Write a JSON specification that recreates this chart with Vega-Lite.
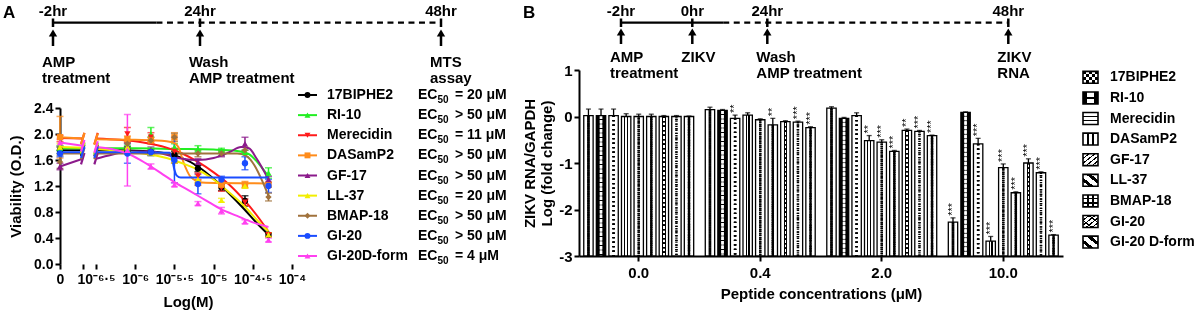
{
  "$schema": "https://vega.github.io/schema/vega-lite/v6.json",
  "width": 1198,
  "height": 317,
  "padding": 0,
  "autosize": {"type": "none"},
  "background": "white",
  "config": {
    "font": "Liberation Sans",
    "view": {"stroke": null},
    "axis": {"grid": false, "labelFont": "Liberation Sans", "labelFontWeight": "bold", "labelFontSize": 14, "labelColor": "black", "titleFont": "Liberation Sans", "titleFontWeight": "bold", "titleFontSize": 15, "titleColor": "black", "domainColor": "black", "domainWidth": 2, "tickColor": "black", "tickWidth": 2, "tickSize": 5},
    "text": {"font": "Liberation Sans", "fontWeight": "bold", "fill": "black"}
  },
  "datasets": {
    "tlA": [
      {"t": -2, "top": "-2hr", "lab": "AMP\ntreatment"},
      {"t": 24, "top": "24hr", "lab": "Wash\nAMP treatment"},
      {"t": 48, "top": "48hr", "lab": "MTS\nassay"}
    ],
    "segA": [{"a": -2, "b": 16.3, "style": "solid"}, {"a": 16.3, "b": 48, "style": "dashed"}],
    "letA": [{"t": -10.84, "txt": "A"}],
    "tlB": [
      {"t": -2, "top": "-2hr", "lab": "AMP\ntreatment"},
      {"t": 0, "top": "0hr", "lab": "ZIKV"},
      {"t": 24, "top": "24hr", "lab": "Wash\nAMP treatment"},
      {"t": 48, "top": "48hr", "lab": "ZIKV\nRNA"}
    ],
    "segB": [{"a": -2, "b": 9.9, "style": "solid"}, {"a": 9.9, "b": 48, "style": "dashed"}],
    "letB": [{"t": -4.75, "txt": "B"}],
    "axA": [{"x": -6.96, "x2": -6.67}, {"x": -6.5, "x2": -4.0}],
    "curvesA": [
      {"p": "17BIPHE2", "s": "L", "x": -6.96, "v": 1.75}, {"p": "17BIPHE2", "s": "L", "x": -6.67, "v": 1.75},
      {"p": "17BIPHE2", "s": "R", "x": -6.5, "v": 1.75}, {"p": "17BIPHE2", "s": "R", "x": -6.2, "v": 1.75}, {"p": "17BIPHE2", "s": "R", "x": -5.9, "v": 1.74}, {"p": "17BIPHE2", "s": "R", "x": -5.6, "v": 1.70}, {"p": "17BIPHE2", "s": "R", "x": -5.4, "v": 1.63}, {"p": "17BIPHE2", "s": "R", "x": -5.2, "v": 1.50}, {"p": "17BIPHE2", "s": "R", "x": -5.0, "v": 1.31}, {"p": "17BIPHE2", "s": "R", "x": -4.8, "v": 1.08}, {"p": "17BIPHE2", "s": "R", "x": -4.6, "v": 0.83}, {"p": "17BIPHE2", "s": "R", "x": -4.45, "v": 0.63}, {"p": "17BIPHE2", "s": "R", "x": -4.3, "v": 0.45},
      {"p": "RI-10", "s": "L", "x": -6.96, "v": 1.78}, {"p": "RI-10", "s": "L", "x": -6.67, "v": 1.78},
      {"p": "RI-10", "s": "R", "x": -6.5, "v": 1.78}, {"p": "RI-10", "s": "R", "x": -6.0, "v": 1.78}, {"p": "RI-10", "s": "R", "x": -5.5, "v": 1.77}, {"p": "RI-10", "s": "R", "x": -5.0, "v": 1.76}, {"p": "RI-10", "s": "R", "x": -4.7, "v": 1.74}, {"p": "RI-10", "s": "R", "x": -4.55, "v": 1.69}, {"p": "RI-10", "s": "R", "x": -4.45, "v": 1.58}, {"p": "RI-10", "s": "R", "x": -4.37, "v": 1.46}, {"p": "RI-10", "s": "R", "x": -4.3, "v": 1.35},
      {"p": "Merecidin", "s": "L", "x": -6.96, "v": 1.94}, {"p": "Merecidin", "s": "L", "x": -6.67, "v": 1.93},
      {"p": "Merecidin", "s": "R", "x": -6.5, "v": 1.93}, {"p": "Merecidin", "s": "R", "x": -6.2, "v": 1.91}, {"p": "Merecidin", "s": "R", "x": -5.9, "v": 1.87}, {"p": "Merecidin", "s": "R", "x": -5.6, "v": 1.79}, {"p": "Merecidin", "s": "R", "x": -5.4, "v": 1.70}, {"p": "Merecidin", "s": "R", "x": -5.2, "v": 1.57}, {"p": "Merecidin", "s": "R", "x": -5.0, "v": 1.41}, {"p": "Merecidin", "s": "R", "x": -4.8, "v": 1.22}, {"p": "Merecidin", "s": "R", "x": -4.6, "v": 0.97}, {"p": "Merecidin", "s": "R", "x": -4.45, "v": 0.75}, {"p": "Merecidin", "s": "R", "x": -4.3, "v": 0.50},
      {"p": "DASamP2", "s": "L", "x": -6.96, "v": 1.95}, {"p": "DASamP2", "s": "L", "x": -6.67, "v": 1.93},
      {"p": "DASamP2", "s": "R", "x": -6.5, "v": 1.92}, {"p": "DASamP2", "s": "R", "x": -6.0, "v": 1.91}, {"p": "DASamP2", "s": "R", "x": -5.6, "v": 1.89}, {"p": "DASamP2", "s": "R", "x": -5.5, "v": 1.86}, {"p": "DASamP2", "s": "R", "x": -5.45, "v": 1.80}, {"p": "DASamP2", "s": "R", "x": -5.38, "v": 1.55}, {"p": "DASamP2", "s": "R", "x": -5.3, "v": 1.35}, {"p": "DASamP2", "s": "R", "x": -5.2, "v": 1.27}, {"p": "DASamP2", "s": "R", "x": -5.1, "v": 1.25}, {"p": "DASamP2", "s": "R", "x": -4.3, "v": 1.24},
      {"p": "GF-17", "s": "L", "x": -6.96, "v": 1.50}, {"p": "GF-17", "s": "L", "x": -6.67, "v": 1.62},
      {"p": "GF-17", "s": "R", "x": -6.5, "v": 1.62}, {"p": "GF-17", "s": "R", "x": -6.3, "v": 1.68}, {"p": "GF-17", "s": "R", "x": -6.1, "v": 1.73}, {"p": "GF-17", "s": "R", "x": -5.8, "v": 1.73}, {"p": "GF-17", "s": "R", "x": -5.6, "v": 1.68}, {"p": "GF-17", "s": "R", "x": -5.4, "v": 1.62}, {"p": "GF-17", "s": "R", "x": -5.2, "v": 1.60}, {"p": "GF-17", "s": "R", "x": -5.0, "v": 1.63}, {"p": "GF-17", "s": "R", "x": -4.8, "v": 1.72}, {"p": "GF-17", "s": "R", "x": -4.65, "v": 1.80}, {"p": "GF-17", "s": "R", "x": -4.55, "v": 1.78}, {"p": "GF-17", "s": "R", "x": -4.45, "v": 1.62}, {"p": "GF-17", "s": "R", "x": -4.3, "v": 1.30},
      {"p": "LL-37", "s": "L", "x": -6.96, "v": 1.80}, {"p": "LL-37", "s": "L", "x": -6.67, "v": 1.79},
      {"p": "LL-37", "s": "R", "x": -6.5, "v": 1.77}, {"p": "LL-37", "s": "R", "x": -6.2, "v": 1.74}, {"p": "LL-37", "s": "R", "x": -5.9, "v": 1.70}, {"p": "LL-37", "s": "R", "x": -5.6, "v": 1.63}, {"p": "LL-37", "s": "R", "x": -5.4, "v": 1.55}, {"p": "LL-37", "s": "R", "x": -5.2, "v": 1.45}, {"p": "LL-37", "s": "R", "x": -5.0, "v": 1.30}, {"p": "LL-37", "s": "R", "x": -4.8, "v": 1.10}, {"p": "LL-37", "s": "R", "x": -4.6, "v": 0.88}, {"p": "LL-37", "s": "R", "x": -4.45, "v": 0.68}, {"p": "LL-37", "s": "R", "x": -4.3, "v": 0.50},
      {"p": "BMAP-18", "s": "L", "x": -6.96, "v": 1.70}, {"p": "BMAP-18", "s": "L", "x": -6.67, "v": 1.70},
      {"p": "BMAP-18", "s": "R", "x": -6.5, "v": 1.70}, {"p": "BMAP-18", "s": "R", "x": -6.0, "v": 1.70}, {"p": "BMAP-18", "s": "R", "x": -5.5, "v": 1.70}, {"p": "BMAP-18", "s": "R", "x": -5.0, "v": 1.70}, {"p": "BMAP-18", "s": "R", "x": -4.7, "v": 1.70}, {"p": "BMAP-18", "s": "R", "x": -4.58, "v": 1.66}, {"p": "BMAP-18", "s": "R", "x": -4.48, "v": 1.52}, {"p": "BMAP-18", "s": "R", "x": -4.38, "v": 1.28}, {"p": "BMAP-18", "s": "R", "x": -4.3, "v": 1.05},
      {"p": "GI-20", "s": "L", "x": -6.96, "v": 1.72}, {"p": "GI-20", "s": "L", "x": -6.67, "v": 1.72},
      {"p": "GI-20", "s": "R", "x": -6.5, "v": 1.72}, {"p": "GI-20", "s": "R", "x": -6.0, "v": 1.72}, {"p": "GI-20", "s": "R", "x": -5.56, "v": 1.71}, {"p": "GI-20", "s": "R", "x": -5.53, "v": 1.62}, {"p": "GI-20", "s": "R", "x": -5.5, "v": 1.45}, {"p": "GI-20", "s": "R", "x": -5.47, "v": 1.36}, {"p": "GI-20", "s": "R", "x": -5.42, "v": 1.33}, {"p": "GI-20", "s": "R", "x": -5.0, "v": 1.33}, {"p": "GI-20", "s": "R", "x": -4.3, "v": 1.33},
      {"p": "GI-20D-form", "s": "L", "x": -6.96, "v": 1.87}, {"p": "GI-20D-form", "s": "L", "x": -6.67, "v": 1.82},
      {"p": "GI-20D-form", "s": "R", "x": -6.5, "v": 1.80}, {"p": "GI-20D-form", "s": "R", "x": -6.3, "v": 1.77}, {"p": "GI-20D-form", "s": "R", "x": -6.1, "v": 1.70}, {"p": "GI-20D-form", "s": "R", "x": -5.95, "v": 1.61}, {"p": "GI-20D-form", "s": "R", "x": -5.8, "v": 1.50}, {"p": "GI-20D-form", "s": "R", "x": -5.65, "v": 1.38}, {"p": "GI-20D-form", "s": "R", "x": -5.5, "v": 1.26}, {"p": "GI-20D-form", "s": "R", "x": -5.3, "v": 1.12}, {"p": "GI-20D-form", "s": "R", "x": -5.1, "v": 0.98}, {"p": "GI-20D-form", "s": "R", "x": -4.9, "v": 0.84}, {"p": "GI-20D-form", "s": "R", "x": -4.7, "v": 0.74}, {"p": "GI-20D-form", "s": "R", "x": -4.5, "v": 0.64}, {"p": "GI-20D-form", "s": "R", "x": -4.3, "v": 0.57}
    ],
    "ptsA": [
      {"p": "17BIPHE2", "x": -6.96, "v": 1.75, "e": 0.05}, {"p": "17BIPHE2", "x": -6.1, "v": 1.75, "e": 0.05}, {"p": "17BIPHE2", "x": -5.8, "v": 1.72, "e": 0.05}, {"p": "17BIPHE2", "x": -5.5, "v": 1.68, "e": 0.05}, {"p": "17BIPHE2", "x": -5.2, "v": 1.47, "e": 0.05}, {"p": "17BIPHE2", "x": -4.9, "v": 1.18, "e": 0.05}, {"p": "17BIPHE2", "x": -4.6, "v": 0.97, "e": 0.08}, {"p": "17BIPHE2", "x": -4.3, "v": 0.45, "e": 0.03},
      {"p": "RI-10", "x": -6.96, "v": 1.78, "e": 0.04}, {"p": "RI-10", "x": -6.1, "v": 1.78, "e": 0.04}, {"p": "RI-10", "x": -5.8, "v": 2.0, "e": 0.1}, {"p": "RI-10", "x": -5.5, "v": 1.8, "e": 0.05}, {"p": "RI-10", "x": -5.2, "v": 1.77, "e": 0.05}, {"p": "RI-10", "x": -4.9, "v": 1.75, "e": 0.03}, {"p": "RI-10", "x": -4.6, "v": 1.72, "e": 0.03}, {"p": "RI-10", "x": -4.3, "v": 1.4, "e": 0.08},
      {"p": "Merecidin", "x": -6.96, "v": 1.93, "e": 0.05}, {"p": "Merecidin", "x": -6.1, "v": 2.0, "e": 0.1}, {"p": "Merecidin", "x": -5.8, "v": 1.95, "e": 0.07}, {"p": "Merecidin", "x": -5.5, "v": 1.73, "e": 0.05}, {"p": "Merecidin", "x": -5.2, "v": 1.35, "e": 0.05}, {"p": "Merecidin", "x": -4.9, "v": 1.17, "e": 0.05}, {"p": "Merecidin", "x": -4.6, "v": 0.95, "e": 0.05}, {"p": "Merecidin", "x": -4.3, "v": 0.45, "e": 0.03},
      {"p": "DASamP2", "x": -6.96, "v": 1.95, "e": 0.32}, {"p": "DASamP2", "x": -6.1, "v": 1.92, "e": 0.05}, {"p": "DASamP2", "x": -5.8, "v": 1.9, "e": 0.05}, {"p": "DASamP2", "x": -5.5, "v": 1.95, "e": 0.07}, {"p": "DASamP2", "x": -5.2, "v": 1.25, "e": 0.04}, {"p": "DASamP2", "x": -4.9, "v": 1.22, "e": 0.04}, {"p": "DASamP2", "x": -4.6, "v": 1.22, "e": 0.05}, {"p": "DASamP2", "x": -4.3, "v": 1.22, "e": 0.04},
      {"p": "GF-17", "x": -6.96, "v": 1.5, "e": 0.05}, {"p": "GF-17", "x": -6.1, "v": 1.82, "e": 0.05}, {"p": "GF-17", "x": -5.8, "v": 1.75, "e": 0.05}, {"p": "GF-17", "x": -5.5, "v": 1.6, "e": 0.05}, {"p": "GF-17", "x": -5.2, "v": 1.57, "e": 0.05}, {"p": "GF-17", "x": -4.9, "v": 1.7, "e": 0.05}, {"p": "GF-17", "x": -4.6, "v": 1.85, "e": 0.1}, {"p": "GF-17", "x": -4.3, "v": 1.3, "e": 0.05},
      {"p": "LL-37", "x": -6.96, "v": 1.8, "e": 0.05}, {"p": "LL-37", "x": -6.1, "v": 1.8, "e": 0.05}, {"p": "LL-37", "x": -5.8, "v": 1.72, "e": 0.05}, {"p": "LL-37", "x": -5.5, "v": 1.6, "e": 0.05}, {"p": "LL-37", "x": -5.2, "v": 1.3, "e": 0.05}, {"p": "LL-37", "x": -4.9, "v": 0.98, "e": 0.03}, {"p": "LL-37", "x": -4.6, "v": 1.2, "e": 0.03}, {"p": "LL-37", "x": -4.3, "v": 0.45, "e": 0.03},
      {"p": "BMAP-18", "x": -6.96, "v": 1.57, "e": 0.1}, {"p": "BMAP-18", "x": -6.1, "v": 1.85, "e": 0.05}, {"p": "BMAP-18", "x": -5.8, "v": 1.9, "e": 0.05}, {"p": "BMAP-18", "x": -5.5, "v": 1.95, "e": 0.06}, {"p": "BMAP-18", "x": -5.2, "v": 1.7, "e": 0.05}, {"p": "BMAP-18", "x": -4.9, "v": 1.7, "e": 0.03}, {"p": "BMAP-18", "x": -4.6, "v": 1.75, "e": 0.05}, {"p": "BMAP-18", "x": -4.3, "v": 1.03, "e": 0.06},
      {"p": "GI-20", "x": -6.96, "v": 1.7, "e": 0.05}, {"p": "GI-20", "x": -6.1, "v": 1.7, "e": 0.15}, {"p": "GI-20", "x": -5.8, "v": 1.72, "e": 0.05}, {"p": "GI-20", "x": -5.5, "v": 1.6, "e": 0.35}, {"p": "GI-20", "x": -5.2, "v": 1.23, "e": 0.15}, {"p": "GI-20", "x": -4.9, "v": 1.3, "e": 0.05}, {"p": "GI-20", "x": -4.6, "v": 1.55, "e": 0.1}, {"p": "GI-20", "x": -4.3, "v": 1.2, "e": 0.1},
      {"p": "GI-20D-form", "x": -6.96, "v": 1.87, "e": 0.05}, {"p": "GI-20D-form", "x": -6.1, "v": 1.75, "e": 0.55}, {"p": "GI-20D-form", "x": -5.8, "v": 1.5, "e": 0.04}, {"p": "GI-20D-form", "x": -5.5, "v": 1.22, "e": 0.03}, {"p": "GI-20D-form", "x": -5.2, "v": 0.93, "e": 0.03}, {"p": "GI-20D-form", "x": -4.9, "v": 0.82, "e": 0.05}, {"p": "GI-20D-form", "x": -4.6, "v": 0.65, "e": 0.03}, {"p": "GI-20D-form", "x": -4.3, "v": 0.37, "e": 0.03}
    ],
    "legA": [
      {"p": "17BIPHE2", "r": "= 20 μM"}, {"p": "RI-10", "r": "> 50 μM"}, {"p": "Merecidin", "r": "= 11 μM"},
      {"p": "DASamP2", "r": "> 50 μM"}, {"p": "GF-17", "r": "> 50 μM"}, {"p": "LL-37", "r": "= 20 μM"},
      {"p": "BMAP-18", "r": "> 50 μM"}, {"p": "GI-20", "r": "> 50 μM"}, {"p": "GI-20D-form", "r": "=  4 μM"}
    ],
    "barsB": [
      {"c": "0.0", "p": "17BIPHE2", "v": 0.02, "hi": 0.16, "sig": ""}, {"c": "0.0", "p": "RI-10", "v": 0.02, "hi": 0.16, "sig": ""}, {"c": "0.0", "p": "Merecidin", "v": 0.02, "hi": 0.16, "sig": ""}, {"c": "0.0", "p": "DASamP2", "v": 0.0, "hi": 0.06, "sig": ""}, {"c": "0.0", "p": "GF-17", "v": 0.0, "hi": 0.05, "sig": ""}, {"c": "0.0", "p": "LL-37", "v": 0.0, "hi": 0.05, "sig": ""}, {"c": "0.0", "p": "BMAP-18", "v": 0.0, "hi": 0.02, "sig": ""}, {"c": "0.0", "p": "GI-20", "v": 0.0, "hi": 0.02, "sig": ""}, {"c": "0.0", "p": "GI-20 D-form", "v": 0.0, "hi": 0.01, "sig": ""},
      {"c": "0.4", "p": "17BIPHE2", "v": 0.15, "hi": 0.2, "sig": ""}, {"c": "0.4", "p": "RI-10", "v": 0.13, "hi": 0.15, "sig": ""}, {"c": "0.4", "p": "Merecidin", "v": -0.04, "hi": 0.03, "sig": "**"}, {"c": "0.4", "p": "DASamP2", "v": 0.03, "hi": 0.08, "sig": ""}, {"c": "0.4", "p": "GF-17", "v": -0.07, "hi": -0.05, "sig": ""}, {"c": "0.4", "p": "LL-37", "v": -0.18, "hi": -0.04, "sig": "**"}, {"c": "0.4", "p": "BMAP-18", "v": -0.11, "hi": -0.09, "sig": ""}, {"c": "0.4", "p": "GI-20", "v": -0.12, "hi": -0.1, "sig": "***"}, {"c": "0.4", "p": "GI-20 D-form", "v": -0.24, "hi": -0.22, "sig": "***"},
      {"c": "2.0", "p": "17BIPHE2", "v": 0.18, "hi": 0.21, "sig": ""}, {"c": "2.0", "p": "RI-10", "v": -0.04, "hi": -0.02, "sig": ""}, {"c": "2.0", "p": "Merecidin", "v": 0.02, "hi": 0.08, "sig": ""}, {"c": "2.0", "p": "DASamP2", "v": -0.52, "hi": -0.41, "sig": "**"}, {"c": "2.0", "p": "GF-17", "v": -0.55, "hi": -0.5, "sig": "***"}, {"c": "2.0", "p": "LL-37", "v": -0.75, "hi": -0.73, "sig": "***"}, {"c": "2.0", "p": "BMAP-18", "v": -0.3, "hi": -0.27, "sig": "**"}, {"c": "2.0", "p": "GI-20", "v": -0.32, "hi": -0.3, "sig": "***"}, {"c": "2.0", "p": "GI-20 D-form", "v": -0.41, "hi": -0.4, "sig": "***"},
      {"c": "10.0", "p": "17BIPHE2", "v": -2.27, "hi": -2.18, "sig": "***"}, {"c": "10.0", "p": "RI-10", "v": 0.09, "hi": 0.1, "sig": ""}, {"c": "10.0", "p": "Merecidin", "v": -0.59, "hi": -0.47, "sig": "***"}, {"c": "10.0", "p": "DASamP2", "v": -2.68, "hi": -2.58, "sig": "***"}, {"c": "10.0", "p": "GF-17", "v": -1.1, "hi": -1.02, "sig": "***"}, {"c": "10.0", "p": "LL-37", "v": -1.64, "hi": -1.62, "sig": "***"}, {"c": "10.0", "p": "BMAP-18", "v": -1.0, "hi": -0.91, "sig": "***"}, {"c": "10.0", "p": "GI-20", "v": -1.21, "hi": -1.19, "sig": "***"}, {"c": "10.0", "p": "GI-20 D-form", "v": -2.55, "hi": -2.54, "sig": "***"}
    ],
    "legB": [
      {"p": "17BIPHE2"}, {"p": "RI-10"}, {"p": "Merecidin"}, {"p": "DASamP2"}, {"p": "GF-17"}, {"p": "LL-37"}, {"p": "BMAP-18"}, {"p": "GI-20"}, {"p": "GI-20 D-form"}
    ]
  },
  "layer": [
    {
      "layer": [
        {"data": {"name": "segA"}, "mark": {"type": "rule", "strokeWidth": 2.2, "color": "black"},
         "encoding": {"x": {"field": "a", "type": "quantitative", "scale": {"domain": [-2, 24, 48], "range": [53, 200, 441], "nice": false, "zero": false}, "axis": null}, "x2": {"field": "b"},
                      "y": {"datum": 2.27, "type": "quantitative", "scale": {"domain": [0, 10], "range": [0, 100], "nice": false, "zero": false}, "axis": null},
                      "strokeDash": {"field": "style", "type": "nominal", "scale": {"domain": ["solid", "dashed"], "range": [[1, 0], [6, 4.5]]}, "legend": null}}},
        {"data": {"name": "tlA"}, "mark": {"type": "rule", "strokeWidth": 2.5, "color": "black"}, "encoding": {"x": {"field": "t", "type": "quantitative"}, "y": {"datum": 1.85}, "y2": {"datum": 2.7}}},
        {"data": {"name": "tlA"}, "mark": {"type": "rule", "strokeWidth": 2.5, "color": "black"}, "encoding": {"x": {"field": "t", "type": "quantitative"}, "y": {"datum": 3.3}, "y2": {"datum": 4.6}}},
        {"data": {"name": "tlA"}, "mark": {"type": "point", "shape": "triangle-up", "filled": true, "color": "black", "size": 70, "opacity": 1}, "encoding": {"x": {"field": "t", "type": "quantitative"}, "y": {"datum": 3.3}}},
        {"data": {"name": "tlA"}, "mark": {"type": "text", "fontSize": 15, "align": "center", "baseline": "alphabetic"}, "encoding": {"x": {"field": "t", "type": "quantitative"}, "y": {"datum": 1.55}, "text": {"field": "top"}}},
        {"data": {"name": "tlA"}, "mark": {"type": "text", "fontSize": 15, "align": "left", "baseline": "alphabetic", "dx": -11, "lineBreak": "\n", "lineHeight": 16}, "encoding": {"x": {"field": "t", "type": "quantitative"}, "y": {"datum": 6.67}, "text": {"field": "lab"}}},
        {"data": {"name": "letA"}, "mark": {"type": "text", "fontSize": 17, "align": "left", "baseline": "alphabetic"}, "encoding": {"x": {"field": "t", "type": "quantitative"}, "y": {"datum": 1.8}, "text": {"field": "txt"}}}
      ]
    },
    {
      "encoding": {
        "x": {"field": "x", "type": "quantitative", "scale": {"domain": [-6.96, -4], "range": [60, 292], "nice": false, "zero": false},
              "axis": {"orient": "bottom", "offset": -53, "domain": false, "values": [-6.96, -6.67, -6.5, -6, -5.5, -5, -4.5, -4], "labelExpr": "datum.value < -6.9 ? '0' : datum.value < -6.6 ? '' : datum.value == -6.5 ? '10⁻⁶·⁵' : datum.value == -6 ? '10⁻⁶' : datum.value == -5.5 ? '10⁻⁵·⁵' : datum.value == -5 ? '10⁻⁵' : datum.value == -4.5 ? '10⁻⁴·⁵' : '10⁻⁴'", "labelOverlap": false, "labelFlush": false, "labelPadding": 3, "title": "Log(M)", "titleX": 188, "titlePadding": 8}},
        "y": {"field": "v", "type": "quantitative", "scale": {"domain": [0, 2.4], "range": [264, 108], "nice": false, "zero": false},
              "axis": {"orient": "left", "offset": -60, "values": [0, 0.4, 0.8, 1.2, 1.6, 2.0, 2.4], "format": ".1f", "title": "Viability (O.D.)", "titlePadding": 10, "labelPadding": 2}},
        "color": {"field": "p", "type": "nominal", "scale": {"domain": ["17BIPHE2", "RI-10", "Merecidin", "DASamP2", "GF-17", "LL-37", "BMAP-18", "GI-20", "GI-20D-form"], "range": ["#000000", "#22ee22", "#ff1a1a", "#ff8c1a", "#8b1a8b", "#f2ee00", "#a0723c", "#1a4cff", "#ff40f0"]}, "legend": null}
      },
      "layer": [
        {"data": {"name": "axA"}, "mark": {"type": "rule", "strokeWidth": 2, "color": "black"}, "encoding": {"x2": {"field": "x2"}, "y": {"datum": 0}, "color": {"value": "black"}}},
        {"data": {"name": "ptsA"}, "mark": {"type": "errorbar", "ticks": {"size": 7, "thickness": 1.5}, "thickness": 1.5}, "encoding": {"yError": {"field": "e"}}},
        {"data": {"name": "curvesA"}, "mark": {"type": "line", "strokeWidth": 2, "interpolate": "monotone"}, "encoding": {"detail": {"field": "s"}}},
        {"data": {"name": "curvesA"}, "transform": [{"filter": "datum.x == -6.67 || datum.x == -6.5"}], "mark": {"type": "point", "shape": "M -0.3 1 L 0.3 -1", "filled": false, "strokeWidth": 2.2, "size": 130, "opacity": 1}, "encoding": {}},
        {"data": {"name": "ptsA"}, "mark": {"type": "point", "filled": true, "opacity": 1, "size": 40},
         "encoding": {"shape": {"field": "p", "type": "nominal", "scale": {"domain": ["17BIPHE2", "RI-10", "Merecidin", "DASamP2", "GF-17", "LL-37", "BMAP-18", "GI-20", "GI-20D-form"], "range": ["circle", "triangle-up", "triangle-down", "square", "triangle-up", "triangle-up", "diamond", "circle", "triangle-up"]}, "legend": null}}}
      ]
    },
    {
      "data": {"name": "legA"},
      "encoding": {
        "y": {"field": "p", "type": "nominal", "scale": {"type": "point", "domain": ["17BIPHE2", "RI-10", "Merecidin", "DASamP2", "GF-17", "LL-37", "BMAP-18", "GI-20", "GI-20D-form"], "range": [95, 256], "padding": 0}, "axis": null},
        "color": {"field": "p", "type": "nominal", "scale": {"domain": ["17BIPHE2", "RI-10", "Merecidin", "DASamP2", "GF-17", "LL-37", "BMAP-18", "GI-20", "GI-20D-form"], "range": ["#000000", "#22ee22", "#ff1a1a", "#ff8c1a", "#8b1a8b", "#f2ee00", "#a0723c", "#1a4cff", "#ff40f0"]}, "legend": null}
      },
      "layer": [
        {"mark": {"type": "rule", "strokeWidth": 2}, "encoding": {"x": {"datum": 0, "type": "quantitative", "scale": {"domain": [0, 222], "range": [298, 520], "nice": false, "zero": false}, "axis": null}, "x2": {"datum": 19}}},
        {"mark": {"type": "point", "filled": true, "opacity": 1, "size": 35}, "encoding": {"x": {"datum": 9.5, "type": "quantitative"},
          "shape": {"field": "p", "type": "nominal", "scale": {"domain": ["17BIPHE2", "RI-10", "Merecidin", "DASamP2", "GF-17", "LL-37", "BMAP-18", "GI-20", "GI-20D-form"], "range": ["circle", "triangle-up", "triangle-down", "square", "triangle-up", "triangle-up", "diamond", "circle", "triangle-up"]}, "legend": null}}},
        {"mark": {"type": "text", "align": "left", "baseline": "middle", "fontSize": 14}, "encoding": {"x": {"datum": 29, "type": "quantitative"}, "text": {"field": "p"}, "color": {"value": "black"}}},
        {"mark": {"type": "text", "align": "left", "baseline": "middle", "fontSize": 14, "text": "EC"}, "encoding": {"x": {"datum": 120, "type": "quantitative"}, "color": {"value": "black"}}},
        {"mark": {"type": "text", "align": "left", "baseline": "middle", "fontSize": 10, "dy": 5, "text": "50"}, "encoding": {"x": {"datum": 139.5, "type": "quantitative"}, "color": {"value": "black"}}},
        {"mark": {"type": "text", "align": "left", "baseline": "middle", "fontSize": 14}, "encoding": {"x": {"datum": 157, "type": "quantitative"}, "text": {"field": "r"}, "color": {"value": "black"}}}
      ]
    },
    {
      "layer": [
        {"data": {"name": "segB"}, "mark": {"type": "rule", "strokeWidth": 2.2, "color": "black"},
         "encoding": {"x": {"field": "a", "type": "quantitative", "scale": {"domain": [-2, 0, 24, 48], "range": [621, 692.3, 767.3, 1008.3], "nice": false, "zero": false}, "axis": null}, "x2": {"field": "b"},
                      "y": {"datum": 2.27, "type": "quantitative", "scale": {"domain": [0, 10], "range": [0, 100], "nice": false, "zero": false}, "axis": null},
                      "strokeDash": {"field": "style", "type": "nominal", "scale": {"domain": ["solid", "dashed"], "range": [[1, 0], [6, 4.5]]}, "legend": null}}},
        {"data": {"name": "tlB"}, "mark": {"type": "rule", "strokeWidth": 2.5, "color": "black"}, "encoding": {"x": {"field": "t", "type": "quantitative"}, "y": {"datum": 1.85}, "y2": {"datum": 2.7}}},
        {"data": {"name": "tlB"}, "mark": {"type": "rule", "strokeWidth": 2.5, "color": "black"}, "encoding": {"x": {"field": "t", "type": "quantitative"}, "y": {"datum": 3.2}, "y2": {"datum": 4.4}}},
        {"data": {"name": "tlB"}, "mark": {"type": "point", "shape": "triangle-up", "filled": true, "color": "black", "size": 70, "opacity": 1}, "encoding": {"x": {"field": "t", "type": "quantitative"}, "y": {"datum": 3.2}}},
        {"data": {"name": "tlB"}, "mark": {"type": "text", "fontSize": 15, "align": "center", "baseline": "alphabetic"}, "encoding": {"x": {"field": "t", "type": "quantitative"}, "y": {"datum": 1.55}, "text": {"field": "top"}}},
        {"data": {"name": "tlB"}, "mark": {"type": "text", "fontSize": 15, "align": "left", "baseline": "alphabetic", "dx": -11, "lineBreak": "\n", "lineHeight": 16}, "encoding": {"x": {"field": "t", "type": "quantitative"}, "y": {"datum": 6.2}, "text": {"field": "lab"}}},
        {"data": {"name": "letB"}, "mark": {"type": "text", "fontSize": 17, "align": "left", "baseline": "alphabetic"}, "encoding": {"x": {"field": "t", "type": "quantitative"}, "y": {"datum": 1.75}, "text": {"field": "txt"}}}
      ]
    },
    {
      "data": {"name": "barsB"},
      "encoding": {
        "x": {"field": "c", "type": "nominal", "sort": null, "scale": {"domain": ["0.0", "0.4", "2.0", "10.0"], "range": [579, 1063], "paddingInner": 0.069, "paddingOuter": 0.026},
              "axis": {"orient": "bottom", "offset": -61, "labelAngle": 0, "labelFontSize": 15, "labelPadding": 4, "title": "Peptide concentrations (μM)", "titlePadding": 6}},
        "xOffset": {"field": "p", "type": "nominal", "scale": {"domain": ["17BIPHE2", "RI-10", "Merecidin", "DASamP2", "GF-17", "LL-37", "BMAP-18", "GI-20", "GI-20 D-form"], "paddingInner": 0.255, "paddingOuter": 0.1275}},
        "y": {"field": "v", "type": "quantitative", "scale": {"domain": [-3, 1], "range": [256, 70], "nice": false, "zero": false},
              "axis": {"orient": "left", "offset": -579, "values": [-3, -2, -1, 0, 1], "labelExpr": "datum.value + ''", "labelFontSize": 15, "labelPadding": 2, "title": ["ZIKV RNA/GAPDH", "Log (fold change)"], "titlePadding": 4}}
      },
      "layer": [
        {"mark": {"type": "rule", "strokeWidth": 1.3, "color": "black"}, "encoding": {"y2": {"field": "hi"}}},
        {"mark": {"type": "tick", "thickness": 1.3, "size": 5, "color": "black"}, "encoding": {"y": {"field": "hi", "type": "quantitative"}}},
        {"mark": {"type": "bar"}, "encoding": {"y2": {"datum": -3},
          "fill": {"field": "p", "type": "nominal", "scale": {"domain": ["17BIPHE2", "RI-10", "Merecidin", "DASamP2", "GF-17", "LL-37", "BMAP-18", "GI-20", "GI-20 D-form"], "range": ["white", "black", "white", "white", "white", "white", "white", "white", "white"]}, "legend": null}}},
        {"transform": [{"filter": {"field": "p", "oneOf": ["DASamP2", "BMAP-18"]}}],
         "mark": {"type": "bar", "fill": {"gradient": "linear", "x1": 0, "y1": 0, "x2": 1, "y2": 0, "stops": [
           {"offset": 0, "color": "white"}, {"offset": 0.3, "color": "white"}, {"offset": 0.3, "color": "black"}, {"offset": 0.42, "color": "black"}, {"offset": 0.42, "color": "white"},
           {"offset": 0.58, "color": "white"}, {"offset": 0.58, "color": "black"}, {"offset": 0.7, "color": "black"}, {"offset": 0.7, "color": "white"}, {"offset": 1, "color": "white"}]}},
         "encoding": {"y2": {"datum": -3}}},
        {"mark": {"type": "rule", "strokeWidth": 2.4, "strokeCap": "butt", "xOffset": -3.51},
         "encoding": {"y2": {"datum": -3},
           "stroke": {"field": "p", "type": "nominal", "scale": {"domain": ["17BIPHE2", "RI-10", "Merecidin", "DASamP2", "GF-17", "LL-37", "BMAP-18", "GI-20", "GI-20 D-form"], "range": ["black", "white", "black", "transparent", "black", "black", "black", "black", "black"]}, "legend": null},
           "strokeDash": {"field": "p", "type": "nominal", "scale": {"domain": ["17BIPHE2", "RI-10", "Merecidin", "DASamP2", "GF-17", "LL-37", "BMAP-18", "GI-20", "GI-20 D-form"], "range": [[2.34, 2.34], [3.5, 5.5], [1.2, 3.3], [1, 1], [1.3, 2.9], [3.5, 5.5], [1.2, 3.3], [1.3, 8], [4, 6.5]]}, "legend": null}}},
        {"mark": {"type": "rule", "strokeWidth": 2.4, "strokeCap": "butt", "xOffset": -1.17},
         "encoding": {"y2": {"datum": -3},
           "stroke": {"field": "p", "type": "nominal", "legend": null},
           "strokeDash": {"field": "p", "type": "nominal", "scale": {"domain": ["17BIPHE2", "RI-10", "Merecidin", "DASamP2", "GF-17", "LL-37", "BMAP-18", "GI-20", "GI-20 D-form"], "range": [[0, 2.34, 2.34, 0], [3.5, 5.5], [1.2, 3.3], [1, 1], [0, 1.87, 1.3, 1.03], [0, 2.34, 3.5, 3.16], [1.2, 3.3], [0, 2.34, 1.3, 3.32, 1.3, 1.04], [0, 2.34, 4, 4.16]]}, "legend": null}}},
        {"mark": {"type": "rule", "strokeWidth": 2.4, "strokeCap": "butt", "xOffset": 1.17},
         "encoding": {"y2": {"datum": -3},
           "stroke": {"field": "p", "type": "nominal", "legend": null},
           "strokeDash": {"field": "p", "type": "nominal", "scale": {"domain": ["17BIPHE2", "RI-10", "Merecidin", "DASamP2", "GF-17", "LL-37", "BMAP-18", "GI-20", "GI-20 D-form"], "range": [[2.34, 2.34], [0, 4.5, 3.5, 1], [1.2, 3.3], [1, 1], [0.84, 2.9, 0.46, 0], [0, 4.68, 3.5, 0.82], [1.2, 3.3], [0, 4.0, 1.3, 4.0], [0, 4.68, 4, 1.82]]}, "legend": null}}},
        {"mark": {"type": "rule", "strokeWidth": 2.4, "strokeCap": "butt", "xOffset": 3.51},
         "encoding": {"y2": {"datum": -3},
           "stroke": {"field": "p", "type": "nominal", "legend": null},
           "strokeDash": {"field": "p", "type": "nominal", "scale": {"domain": ["17BIPHE2", "RI-10", "Merecidin", "DASamP2", "GF-17", "LL-37", "BMAP-18", "GI-20", "GI-20 D-form"], "range": [[0, 2.34, 2.34, 0], [0, 4.5, 3.5, 1], [1.2, 3.3], [1, 1], [0, 1.41, 1.3, 1.49], [1.52, 5.5, 1.98, 0], [1.2, 3.3], [0, 2.28, 1.3, 3.44, 1.3, 0.98], [0.52, 6.5, 3.48, 0]]}, "legend": null}}},
        {"mark": {"type": "bar", "filled": false, "color": "black", "strokeWidth": 1.3}, "encoding": {"y2": {"datum": -3}}},
        {"mark": {"type": "text", "angle": 270, "align": "left", "baseline": "middle", "dx": 2, "fontSize": 11, "fontWeight": "normal"}, "encoding": {"y": {"field": "hi", "type": "quantitative"}, "text": {"field": "sig"}}}
      ],
      "resolve": {"scale": {"strokeDash": "independent"}}
    },
    {
      "data": {"name": "legB"},
      "encoding": {
        "y": {"field": "p", "type": "nominal", "scale": {"type": "band", "domain": ["17BIPHE2", "RI-10", "Merecidin", "DASamP2", "GF-17", "LL-37", "BMAP-18", "GI-20", "GI-20 D-form"], "range": [67, 252.4], "paddingInner": 0.42, "paddingOuter": 0.21}, "axis": null},
        "x": {"datum": 0, "type": "quantitative", "scale": {"domain": [0, 115], "range": [1083, 1198], "nice": false, "zero": false}, "axis": null},
        "x2": {"datum": 15}
      },
      "layer": [
        {"transform": [{"filter": "datum.p == '17BIPHE2'"}], "mark": {"type": "rect", "fill": {"gradient": "linear", "x1": 0, "y1": 0, "x2": 1, "y2": 0, "stops": [{"offset": 0, "color": "white"}, {"offset": 0.2, "color": "white"}, {"offset": 0.2, "color": "black"}, {"offset": 0.4, "color": "black"}, {"offset": 0.4, "color": "white"}, {"offset": 0.6, "color": "white"}, {"offset": 0.6, "color": "black"}, {"offset": 0.8, "color": "black"}, {"offset": 0.8, "color": "white"}, {"offset": 1, "color": "white"}]}}},
        {"transform": [{"filter": "datum.p == '17BIPHE2'"}], "mark": {"type": "rect", "blend": "difference", "fill": {"gradient": "linear", "x1": 0, "y1": 0, "x2": 0, "y2": 1, "stops": [{"offset": 0, "color": "white"}, {"offset": 0.25, "color": "white"}, {"offset": 0.25, "color": "black"}, {"offset": 0.5, "color": "black"}, {"offset": 0.5, "color": "white"}, {"offset": 0.75, "color": "white"}, {"offset": 0.75, "color": "black"}, {"offset": 1, "color": "black"}]}}},
        {"transform": [{"filter": "datum.p == 'RI-10'"}], "mark": {"type": "rect", "fill": {"gradient": "linear", "x1": 0, "y1": 0, "x2": 1, "y2": 0, "stops": [{"offset": 0, "color": "black"}, {"offset": 0.28, "color": "black"}, {"offset": 0.28, "color": "white"}, {"offset": 0.72, "color": "white"}, {"offset": 0.72, "color": "black"}, {"offset": 1, "color": "black"}]}}},
        {"transform": [{"filter": "datum.p == 'RI-10'"}], "mark": {"type": "rect", "blend": "multiply", "fill": {"gradient": "linear", "x1": 0, "y1": 0, "x2": 0, "y2": 1, "stops": [{"offset": 0, "color": "white"}, {"offset": 0.4, "color": "white"}, {"offset": 0.4, "color": "black"}, {"offset": 0.6, "color": "black"}, {"offset": 0.6, "color": "white"}, {"offset": 1, "color": "white"}]}}},
        {"transform": [{"filter": "datum.p == 'Merecidin'"}], "mark": {"type": "rect", "fill": {"gradient": "linear", "x1": 0, "y1": 0, "x2": 0, "y2": 1, "stops": [{"offset": 0, "color": "white"}, {"offset": 0.28, "color": "white"}, {"offset": 0.28, "color": "black"}, {"offset": 0.38, "color": "black"}, {"offset": 0.38, "color": "white"}, {"offset": 0.62, "color": "white"}, {"offset": 0.62, "color": "black"}, {"offset": 0.72, "color": "black"}, {"offset": 0.72, "color": "white"}, {"offset": 1, "color": "white"}]}}},
        {"transform": [{"filter": {"field": "p", "oneOf": ["DASamP2", "BMAP-18"]}}], "mark": {"type": "rect", "fill": {"gradient": "linear", "x1": 0, "y1": 0, "x2": 1, "y2": 0, "stops": [{"offset": 0, "color": "white"}, {"offset": 0.29, "color": "white"}, {"offset": 0.29, "color": "black"}, {"offset": 0.37, "color": "black"}, {"offset": 0.37, "color": "white"}, {"offset": 0.63, "color": "white"}, {"offset": 0.63, "color": "black"}, {"offset": 0.71, "color": "black"}, {"offset": 0.71, "color": "white"}, {"offset": 1, "color": "white"}]}}},
        {"transform": [{"filter": "datum.p == 'BMAP-18'"}], "mark": {"type": "rect", "blend": "multiply", "fill": {"gradient": "linear", "x1": 0, "y1": 0, "x2": 0, "y2": 1, "stops": [{"offset": 0, "color": "white"}, {"offset": 0.28, "color": "white"}, {"offset": 0.28, "color": "black"}, {"offset": 0.38, "color": "black"}, {"offset": 0.38, "color": "white"}, {"offset": 0.62, "color": "white"}, {"offset": 0.62, "color": "black"}, {"offset": 0.72, "color": "black"}, {"offset": 0.72, "color": "white"}, {"offset": 1, "color": "white"}]}}},
        {"transform": [{"filter": {"field": "p", "oneOf": ["GF-17", "GI-20"]}}], "mark": {"type": "rect", "fill": {"gradient": "linear", "x1": 0, "y1": 0, "x2": 1, "y2": 1, "stops": [{"offset": 0, "color": "white"}, {"offset": 0.17, "color": "white"}, {"offset": 0.17, "color": "black"}, {"offset": 0.23, "color": "black"}, {"offset": 0.23, "color": "white"}, {"offset": 0.37, "color": "white"}, {"offset": 0.37, "color": "black"}, {"offset": 0.43, "color": "black"}, {"offset": 0.43, "color": "white"}, {"offset": 0.57, "color": "white"}, {"offset": 0.57, "color": "black"}, {"offset": 0.63, "color": "black"}, {"offset": 0.63, "color": "white"}, {"offset": 0.77, "color": "white"}, {"offset": 0.77, "color": "black"}, {"offset": 0.83, "color": "black"}, {"offset": 0.83, "color": "white"}, {"offset": 1, "color": "white"}]}}},
        {"transform": [{"filter": "datum.p == 'GI-20'"}], "mark": {"type": "rect", "blend": "multiply", "fill": {"gradient": "linear", "x1": 0, "y1": 1, "x2": 1, "y2": 0, "stops": [{"offset": 0, "color": "white"}, {"offset": 0.27, "color": "white"}, {"offset": 0.27, "color": "black"}, {"offset": 0.33, "color": "black"}, {"offset": 0.33, "color": "white"}, {"offset": 0.67, "color": "white"}, {"offset": 0.67, "color": "black"}, {"offset": 0.73, "color": "black"}, {"offset": 0.73, "color": "white"}, {"offset": 1, "color": "white"}]}}},
        {"transform": [{"filter": {"field": "p", "oneOf": ["LL-37", "GI-20 D-form"]}}], "mark": {"type": "rect", "fill": {"gradient": "linear", "x1": 0, "y1": 1, "x2": 1, "y2": 0, "stops": [{"offset": 0, "color": "white"}, {"offset": 0.2, "color": "white"}, {"offset": 0.2, "color": "black"}, {"offset": 0.36, "color": "black"}, {"offset": 0.36, "color": "white"}, {"offset": 0.6, "color": "white"}, {"offset": 0.6, "color": "black"}, {"offset": 0.76, "color": "black"}, {"offset": 0.76, "color": "white"}, {"offset": 1, "color": "white"}]}}},
        {"mark": {"type": "rect", "filled": false, "color": "black", "strokeWidth": 1.6}},
        {"mark": {"type": "text", "align": "left", "baseline": "middle", "fontSize": 14}, "encoding": {"x": {"datum": 27, "type": "quantitative"}, "x2": null, "text": {"field": "p"}}}
      ]
    }
  ],
  "resolve": {
    "scale": {"x": "independent", "y": "independent", "color": "independent", "shape": "independent", "stroke": "independent", "strokeDash": "independent", "fill": "independent", "xOffset": "independent"},
    "axis": {"x": "independent", "y": "independent"},
    "legend": {"color": "independent", "shape": "independent", "stroke": "independent", "strokeDash": "independent", "fill": "independent"}
  }
}
